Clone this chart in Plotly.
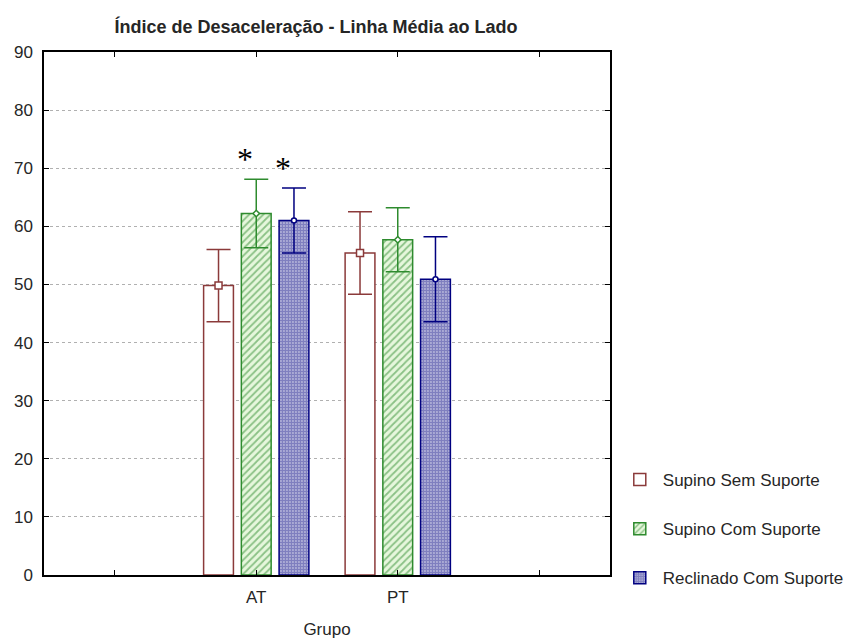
import plotly.graph_objects as go

# Group labels and their slot on the x axis (slots 1 and 4 stay empty)
groups = ["AT", "PT"]
group_slots = [2, 3]
axis_slots = [1, 2, 3, 4]
axis_labels = ["", "AT", "PT", ""]

series_names = ["Supino Sem Suporte", "Supino Com Suporte", "Reclinado Com Suporte"]

# Mean deceleration index per group
mean_sem = [49.8, 55.4]
mean_com = [62.2, 57.7]
mean_rec = [61.0, 50.9]

# Half-width of the error bars
err_sem = [6.2, 7.1]
err_com = [5.9, 5.5]
err_rec = [5.6, 7.3]

y_ticks = [0, 10, 20, 30, 40, 50, 60, 70, 80, 90]

# Significance marks: (group, series index)
signif = [("AT", 1), ("AT", 2)]

FONT = "Liberation Sans, Arial, sans-serif"
TXT = "#262626"

styles = [
    dict(line="#8b3a3a", fill="white", pattern=None, marker="square"),
    dict(line="#2e8b2e", fill="white",
         pattern=dict(shape="/", fgcolor="#2e8b2e", bgcolor="#e6f7dc", size=5, solidity=0.35),
         marker="diamond"),
    dict(line="#000080", fill="white",
         pattern=dict(shape=".", fgcolor="#000080", bgcolor="#ffffff", size=3, solidity=0.8),
         marker="circle"),
]

means = [mean_sem, mean_com, mean_rec]
errs = [err_sem, err_com, err_rec]

bargap = 0.2
groupgap = 0.21
slot_w = (1 - bargap) / len(series_names)
offsets = [(i - (len(series_names) - 1) / 2) * slot_w for i in range(len(series_names))]

fig = go.Figure()

for i, name in enumerate(series_names):
    st = styles[i]
    marker = dict(color=st["fill"], line=dict(color=st["line"], width=1.5))
    if st["pattern"] is not None:
        marker["pattern"] = st["pattern"]
    fig.add_trace(go.Bar(
        x=group_slots, y=means[i], name=name,
        marker=marker,
        error_y=dict(type="data", array=errs[i], color=st["line"],
                     thickness=1.5, width=12),
        legendgroup=name,
    ))

# Mean markers on top of each bar
for i, name in enumerate(series_names):
    st = styles[i]
    fig.add_trace(go.Scatter(
        x=[g + offsets[i] for g in group_slots], y=means[i], mode="markers",
        marker=dict(symbol=st["marker"], size=7 if i == 0 else 5, color="white",
                    line=dict(color=st["line"], width=1.5)),
        showlegend=False, hoverinfo="skip",
    ))

# Asterisks above the significant bars
for g, s in signif:
    k = groups.index(g)
    fig.add_annotation(
        x=group_slots[k] + offsets[s] - 0.08, y=means[s][k] + errs[s][k] + 3.5,
        text="*", showarrow=False,
        font=dict(family="Liberation Serif, Times New Roman, serif", size=32, color="black"),
    )

fig.update_layout(
    width=861, height=639,
    margin=dict(l=44, r=248, t=52, b=64),
    paper_bgcolor="white", plot_bgcolor="white",
    barmode="group", bargap=bargap, bargroupgap=groupgap,
    font=dict(family=FONT, size=17, color=TXT),
    title=dict(text="<b>Índice de Desaceleração - Linha Média ao Lado</b>",
               x=316 / 861, xanchor="center", y=1 - 27 / 639, yanchor="middle",
               font=dict(family=FONT, size=18, color=TXT)),
    legend=dict(x=1.012, xanchor="left", y=(575 - 462) / 523, yanchor="top",
                font=dict(family=FONT, size=17, color=TXT),
                tracegroupgap=24, itemwidth=36, bgcolor="rgba(0,0,0,0)"),
    showlegend=True,
)

fig.update_xaxes(
    range=[0.5, 4.5], tickvals=axis_slots, ticktext=axis_labels,
    showline=True, linecolor="black", linewidth=1.5, mirror="allticks",
    ticks="inside", ticklen=5, tickcolor="black", ticklabelstandoff=6,
    showgrid=False, zeroline=False, automargin=False,
    title=dict(text="Grupo", standoff=18, font=dict(family=FONT, size=17, color=TXT)),
)
fig.update_yaxes(
    range=[0, 90], tickvals=y_ticks, automargin=False,
    showline=True, linecolor="black", linewidth=1.5, mirror="allticks",
    ticks="inside", ticklen=5, tickcolor="black", ticklabelstandoff=6,
    showgrid=True, gridcolor="#b0b0b0", griddash="dot", gridwidth=1,
    zeroline=False,
)

fig.write_html("out.html")
